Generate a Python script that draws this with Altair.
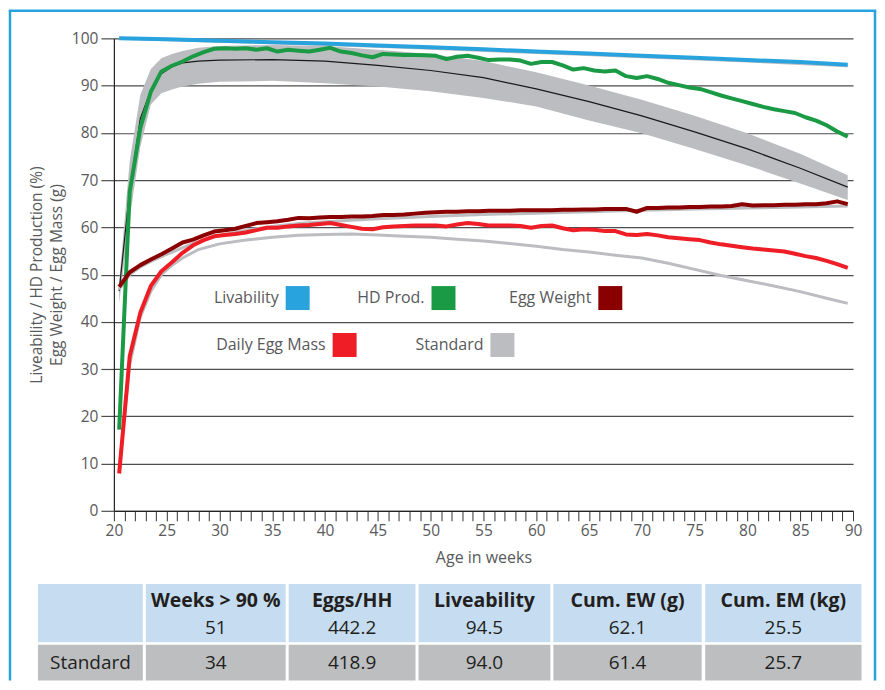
import altair as alt
import pandas as pd

# ---------------- data ----------------
AGES = [20.5 + i for i in range(70)]

HD_PROD = [17.2, 67.5, 81.0, 88.7, 93.0, 94.2, 95.1, 96.2, 97.1, 97.8,
           97.9, 97.8, 97.9, 97.6, 97.9, 97.2, 97.6, 97.4, 97.2, 97.6,
           98.0, 97.2, 96.9, 96.4, 96.0, 96.7, 96.6, 96.5, 96.5, 96.4,
           96.3, 95.6, 96.1, 96.3, 95.9, 95.4, 95.5, 95.5, 95.3, 94.6,
           95.0, 95.0, 94.3, 93.4, 93.7, 93.2, 93.0, 93.2, 92.0, 91.6,
           92.0, 91.4, 90.6, 90.1, 89.6, 89.3, 88.6, 87.9, 87.3, 86.7,
           86.1, 85.5, 85.0, 84.6, 84.2, 83.3, 82.6, 81.6, 80.3, 79.2]

EGG_MASS = [7.9, 32.7, 41.9, 47.6, 50.7, 52.6, 54.6, 56.2, 57.3, 58.1,
            58.4, 58.6, 58.9, 59.4, 59.9, 59.9, 60.2, 60.4, 60.5, 60.7,
            60.9, 60.5, 60.1, 59.7, 59.6, 60.0, 60.2, 60.3, 60.4, 60.4,
            60.4, 60.2, 60.6, 60.9, 60.7, 60.4, 60.4, 60.4, 60.3, 59.9,
            60.3, 60.4, 59.8, 59.4, 59.6, 59.5, 59.2, 59.2, 58.5, 58.4,
            58.6, 58.3, 57.9, 57.7, 57.5, 57.3, 56.8, 56.4, 56.1, 55.8,
            55.5, 55.3, 55.1, 54.9, 54.4, 53.9, 53.5, 52.9, 52.2, 51.4]

EGG_WEIGHT = [47.4, 50.5, 52.0, 53.2, 54.3, 55.5, 56.8, 57.4, 58.3, 59.1,
              59.4, 59.7, 60.3, 60.9, 61.1, 61.3, 61.6, 62.0, 61.9, 62.1,
              62.2, 62.2, 62.3, 62.3, 62.4, 62.6, 62.6, 62.7, 62.9, 63.1,
              63.2, 63.3, 63.3, 63.4, 63.4, 63.5, 63.5, 63.5, 63.6, 63.6,
              63.6, 63.6, 63.7, 63.7, 63.8, 63.8, 63.9, 63.9, 63.9, 63.3,
              64.1, 64.1, 64.2, 64.2, 64.3, 64.3, 64.4, 64.4, 64.5, 64.9,
              64.6, 64.7, 64.7, 64.8, 64.8, 64.9, 64.9, 65.1, 65.5, 64.9]

LIV_AGES = [20.5, 25, 30, 35, 40, 45, 50, 55, 60, 65, 70, 75, 80, 85, 89.5]
LIVABILITY = [100.0, 99.8, 99.5, 99.2, 98.9, 98.5, 98.1, 97.7, 97.2, 96.8, 96.3, 95.9, 95.4, 95.0, 94.4]

STD_LIV_AGES = [20.5, 30, 40, 50, 60, 70, 80, 89.5]
STD_LIVABILITY = [100.0, 99.4, 98.7, 97.9, 97.0, 96.1, 95.2, 94.2]

STD_HD_AGES = [20.5, 21.5, 22.5, 23.5, 24.5, 25.5, 26.5, 28, 30, 35, 40,
               45, 50, 55, 60, 65, 70, 75, 80, 85, 89.5]
STD_HD_MID = [46.5, 68.0, 83.0, 89.0, 92.5, 94.0, 94.8, 95.2, 95.4, 95.5, 95.2,
              94.3, 93.2, 91.7, 89.3, 86.6, 83.6, 80.2, 76.6, 72.5, 68.5]
STD_HD_UPPER = [48.5, 74.0, 88.0, 93.5, 95.8, 96.7, 97.3, 98.0, 98.4, 98.6, 98.4,
                97.6, 96.7, 95.2, 92.8, 90.0, 87.0, 83.6, 79.9, 75.6, 71.0]
STD_HD_LOWER = [44.0, 62.0, 77.0, 86.0, 88.4, 89.2, 89.8, 90.4, 90.8, 91.0, 90.5,
                89.8, 88.8, 87.4, 85.6, 82.6, 79.9, 76.6, 73.1, 69.3, 65.8]

STD_EW_AGES = [20.5, 21.5, 22.5, 23.5, 25, 27.5, 30, 32.5, 35, 37.5, 40,
               45, 50, 55, 60, 65, 70, 75, 80, 85, 89.5]
STD_EGG_WEIGHT = [46.8, 50.0, 51.6, 52.8, 54.3, 56.6, 58.3, 59.4, 60.2, 60.8, 61.2,
                  61.8, 62.3, 62.7, 63.0, 63.3, 63.6, 63.9, 64.1, 64.3, 64.5]

STD_EM_AGES = [20.5, 21.5, 22.5, 23.5, 24.5, 25.5, 26.5, 28, 30, 32.5, 35, 37.5,
               40, 42.5, 45, 47.5, 50, 52.5, 55, 57.5, 60, 62.5, 65, 67.5, 70,
               72.5, 75, 77.5, 80, 82.5, 85, 87.5, 89.5]
STD_EGG_MASS = [8.5, 31.0, 41.0, 46.5, 50.0, 52.0, 53.5, 55.3, 56.5, 57.3, 57.9, 58.3,
                58.5, 58.6, 58.4, 58.1, 57.9, 57.5, 57.1, 56.6, 56.0, 55.3, 54.8, 54.1, 53.5,
                52.4, 51.1, 49.8, 48.7, 47.6, 46.4, 45.0, 43.9]

LEGEND_LABELS = ["Livability", "HD Prod.", "Egg Weight", "Daily Egg Mass", "Standard"]
LEGEND_COLORS = ["#29a3dd", "#1b9a45", "#8a0000", "#ee1d26", "#bcbdc0"]

TABLE_HEADERS = ["", "Weeks > 90 %", "Eggs/HH", "Liveability", "Cum. EW (g)", "Cum. EM (kg)"]
FLOCK_VALUES = ["", "51", "442.2", "94.5", "62.1", "25.5"]
STANDARD_VALUES = ["Standard", "34", "418.9", "94.0", "61.4", "25.7"]

# ---------------- layout (pixels relative to plot origin) ----------------
W, H = 740, 473
FONT = "Open Sans"
TXT = "#58595b"
GRAY = "#bcbdc0"

LEGEND_POS = [(184, 260), (330, 260), (497, 260), (231, 307), (389, 307)]
COL_EDGES = [(-76, 29), (32, 172), (175, 302), (305, 437), (440, 588.5), (592, 748.5)]
HEAD_ROW = (546.3, 604.7)
STD_ROW = (607, 643)
HEAD_TEXT_Y, FLOCK_TEXT_Y, STD_TEXT_Y = 563, 590, 625.5
BORDER_L, BORDER_R, BORDER_T, BORDER_B = -104, 762, -27.75, 643

# ---------------- encodings ----------------
X_ENC = alt.X(
    "age:Q",
    title="Age in weeks",
    scale=alt.Scale(domain=[20, 90], nice=False, zero=False),
    axis=alt.Axis(
        values=list(range(20, 91)),
        labelExpr="datum.value % 5 == 0 ? datum.label : ''",
        labelOverlap=False, labelFlush=False,
        tickSize=10, tickColor="#333333", domainColor="#222222", domainWidth=1.2,
        labelPadding=3, labelFont=FONT, labelFontSize=15.5, labelColor=TXT,
        grid=False, titleFont=FONT, titleFontSize=16, titleFontWeight="normal",
        titleColor=TXT, titlePadding=10,
    ),
)
Y_ENC = alt.Y(
    "value:Q",
    title=["Liveability / HD Production (%)", "Egg Weight / Egg Mass (g)"],
    scale=alt.Scale(domain=[0, 100], nice=False),
    axis=alt.Axis(
        values=list(range(0, 101, 10)),
        grid=True, gridColor="#4d4d4d", gridWidth=1.2,
        tickSize=13, tickColor="#4d4d4d", tickWidth=1.2,
        domainColor="#222222", domainWidth=1.2,
        labelPadding=3, labelFont=FONT, labelFontSize=15.5, labelColor=TXT,
        titleFont=FONT, titleFontSize=15.5, titleFontWeight="normal", titleColor=TXT,
        titleLineHeight=20, titleX=-69, titleY=H / 2,
    ),
)

def series_df(ages, values):
    return pd.DataFrame({"age": ages, "value": values})

band_df = pd.DataFrame({"age": STD_HD_AGES, "value": STD_HD_UPPER, "value2": STD_HD_LOWER})
band = alt.Chart(band_df).mark_area(color=GRAY, opacity=1).encode(
    x=X_ENC, y=Y_ENC, y2="value2:Q")

mid = alt.Chart(series_df(STD_HD_AGES, STD_HD_MID)).mark_line(
    color="#1a1a1a", strokeWidth=1.2).encode(x=X_ENC, y=Y_ENC)

def std_line(ages, vals):
    return alt.Chart(series_df(ages, vals)).mark_line(
        color=GRAY, strokeWidth=3).encode(x=X_ENC, y=Y_ENC)

def main_line(ages, vals, color):
    return alt.Chart(series_df(ages, vals)).mark_line(
        color=color, strokeWidth=4, strokeJoin="round").encode(x=X_ENC, y=Y_ENC)

lines = [
    std_line(STD_LIV_AGES, STD_LIVABILITY),
    std_line(STD_EW_AGES, STD_EGG_WEIGHT),
    std_line(STD_EM_AGES, STD_EGG_MASS),
    main_line(LIV_AGES, LIVABILITY, LEGEND_COLORS[0]),
    main_line(AGES, HD_PROD, LEGEND_COLORS[1]),
    main_line(AGES, EGG_WEIGHT, LEGEND_COLORS[2]),
    main_line(AGES, EGG_MASS, LEGEND_COLORS[3]),
]

# ---------------- custom legend ----------------
leg_df = pd.DataFrame({
    "label": LEGEND_LABELS,
    "color": LEGEND_COLORS,
    "px": [p[0] for p in LEGEND_POS],
    "py": [p[1] for p in LEGEND_POS],
})
leg_df["tx"] = leg_df["px"] - 19
leg_sq = alt.Chart(leg_df).mark_square(size=576, opacity=1, filled=True).encode(
    x=alt.X("px:Q", scale=None, axis=None),
    y=alt.Y("py:Q", scale=None, axis=None),
    color=alt.Color("color:N", scale=None, legend=None),
)
leg_txt = alt.Chart(leg_df).mark_text(
    align="right", baseline="middle", font=FONT, fontSize=16, color=TXT).encode(
    x=alt.X("tx:Q", scale=None, axis=None),
    y=alt.Y("py:Q", scale=None, axis=None),
    text="label:N",
)

# ---------------- table ----------------
cells = []
for i, (x0, x1) in enumerate(COL_EDGES):
    cells.append({"x0": x0, "x1": x1, "y0": HEAD_ROW[0], "y1": HEAD_ROW[1], "fill": "#c6ddf1"})
    cells.append({"x0": x0, "x1": x1, "y0": STD_ROW[0], "y1": STD_ROW[1], "fill": "#bcbec0"})
cell_df = pd.DataFrame(cells)
table_rects = alt.Chart(cell_df).mark_rect().encode(
    x=alt.X("x0:Q", scale=None, axis=None), x2="x1:Q",
    y=alt.Y("y0:Q", scale=None, axis=None), y2="y1:Q",
    color=alt.Color("fill:N", scale=None, legend=None),
)
centers = [(a + b) / 2 for a, b in COL_EDGES]
head_df = pd.DataFrame({"cx": centers, "cy": [HEAD_TEXT_Y] * 6, "t": TABLE_HEADERS})
val_df = pd.DataFrame({
    "cx": centers + centers,
    "cy": [FLOCK_TEXT_Y] * 6 + [STD_TEXT_Y] * 6,
    "t": FLOCK_VALUES + STANDARD_VALUES,
})
head_txt = alt.Chart(head_df).mark_text(
    align="center", baseline="middle", font=FONT, fontSize=19.5, fontWeight="bold",
    color="#231f20").encode(
    x=alt.X("cx:Q", scale=None, axis=None), y=alt.Y("cy:Q", scale=None, axis=None), text="t:N")
val_txt = alt.Chart(val_df).mark_text(
    align="center", baseline="middle", font=FONT, fontSize=19, color="#231f20").encode(
    x=alt.X("cx:Q", scale=None, axis=None), y=alt.Y("cy:Q", scale=None, axis=None), text="t:N")

# ---------------- frame ----------------
BLUE = "#29a3dd"
frame_left = alt.Chart().mark_rule(color=BLUE, strokeWidth=2.5).encode(
    x=alt.value(BORDER_L), y=alt.value(BORDER_T), y2=alt.value(BORDER_B))
frame_right = alt.Chart().mark_rule(color=BLUE, strokeWidth=2.5).encode(
    x=alt.value(BORDER_R), y=alt.value(BORDER_T), y2=alt.value(BORDER_B))
frame_top = alt.Chart().mark_rule(color=BLUE, strokeWidth=2.5, strokeCap="square").encode(
    x=alt.value(BORDER_L), x2=alt.value(BORDER_R), y=alt.value(BORDER_T))

chart = alt.layer(
    band, mid, *lines, leg_sq, leg_txt, table_rects, head_txt, val_txt,
    frame_left, frame_right, frame_top,
).properties(
    width=W, height=H, padding=0, background="white",
).configure_view(stroke=None)

chart.save("out.html", embed_options={"renderer": "svg", "actions": False})
